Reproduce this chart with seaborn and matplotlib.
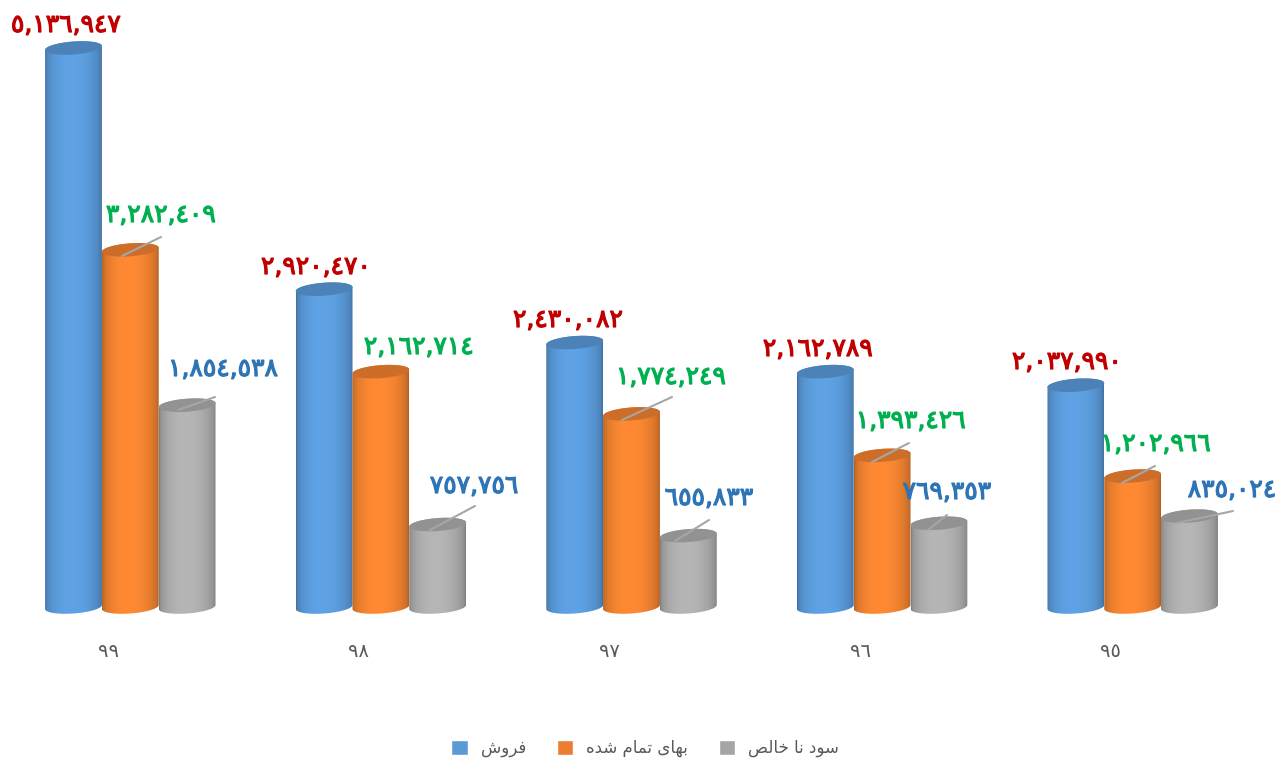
import numpy as np
import pandas as pd
import seaborn as sns
import matplotlib.pyplot as plt
import matplotlib.patheffects as pe
from matplotlib.colors import to_rgb
from matplotlib.path import Path
from matplotlib.patches import PathPatch
from matplotlib.transforms import ScaledTranslation

years = ['٩٩', '٩٨', '٩٧', '٩٦', '٩٥']
# presentation forms, because matplotlib does no arabic shaping or bidi
sales_name = '\uFED3\uFEAE\uFEED\uFEB5'[::-1]
cost_name = '\uFE91\uFEEC\uFE8E\uFBFC \uFE97\uFEE4\uFE8E\uFEE1 \uFEB7\uFEAA\uFEE9'[::-1]
profit_name = '\uFEB3\uFEEE\uFEA9 \uFEE7\uFE8E \uFEA7\uFE8E\uFEDF\uFEBA'[::-1]
series_names = [sales_name, cost_name, profit_name]

sales = [5136947, 2920470, 2430082, 2162789, 2037990]
cost = [3282409, 2162714, 1774249, 1393426, 1202966]
profit = [1854538, 757756, 655833, 769353, 835024]

legend_colors = ['#5B9BD5', '#ED7D31', '#A5A5A5']
light_colors = ['#5FA3E6', '#FF8A33', '#B6B6B6']
label_colors = ['#C00000', '#00B050', '#2E75B6']

# label centres in reference pixels, per series then per year
label_pos = [
    [(66, 25), (316, 267), (568, 320), (818, 349), (1067, 362)],
    [(161, 215), (419, 347), (671, 377), (911, 421), (1156, 444)],
    [(223, 369), (474, 486), (709, 498), (947, 492), (1232, 490)],
]
leaders = [
    ((161, 237), (122, 256)), ((672, 397), (622, 420)), ((909, 443), (872, 462)),
    ((1155, 466), (1122, 483)), ((215, 397), (178, 410)), ((475, 506), (430, 530)),
    ((709, 520), (675, 541)), ((947, 515), (928, 530)), ((1233, 511), (1177, 523)),
]

W, H = 1279, 761
base_px = 607
px_per_unit = 559 / max(sales)
cap_px = 6.5
tilt_px = 2

sns.set_theme(style='white')
plt.rcParams['font.family'] = ['DejaVu Sans']

df = pd.DataFrame({
    'year': years * 3,
    'series': np.repeat(series_names, len(years)),
    'value': sales + cost + profit,
})

fig = plt.figure(figsize=(W / 100, H / 100), dpi=100)
ax = fig.add_axes([5 / W, (H - 625) / H, 1253 / W, 625 / H])
sns.barplot(data=df, x='year', y='value', hue='series', hue_order=series_names,
            palette=legend_colors, width=0.68, gap=0, saturation=1, errorbar=None, ax=ax)

cap = cap_px / px_per_unit
tilt = tilt_px / px_per_unit
t = np.linspace(0, 2 * np.pi, 73)
profile = 0.68 + 0.32 * np.sin(np.pi * np.linspace(0, 1, 80) ** 0.9) ** 0.45

for s, container in enumerate(ax.containers):
    light = np.array(to_rgb(light_colors[s]))
    gradient = (profile[:, None] * light)[None, :, :]
    for bar in container:
        bar.set_visible(False)
        x0, w, h = bar.get_x(), bar.get_width(), bar.get_height()
        xc, a = x0 + w / 2, w / 2
        low = np.linspace(np.pi, 2 * np.pi, 37)
        up = np.linspace(0, np.pi, 37)
        xs = np.r_[xc + a * np.cos(low), xc + a * np.cos(up)]
        ys = np.r_[cap * np.sin(low) + tilt * np.cos(low), h + cap * np.sin(up) + tilt * np.cos(up)]
        body = Path(np.c_[xs, ys])
        im = ax.imshow(gradient, extent=(x0, x0 + w, -cap - tilt, h + cap + tilt),
                       aspect='auto', interpolation='bilinear', zorder=2 + s)
        im.set_clip_path(body, transform=ax.transData)
        top = Path(np.c_[xc + a * np.cos(t), h + cap * np.sin(t) + tilt * np.cos(t)])
        ax.add_patch(PathPatch(top, facecolor=light * 0.8, edgecolor='none', zorder=2.5 + s))

ax.set_xlim(-0.5, len(years) - 0.5)
ax.set_ylim(-(625 - base_px) / px_per_unit, base_px / px_per_unit)
ax.set_xlabel('')
ax.set_ylabel('')
ax.set_yticks([])
ax.tick_params(axis='x', length=0, pad=12, labelsize=14, labelcolor='#595959')
sns.despine(ax=ax, left=True, bottom=True)
shift = ScaledTranslation(-22 / 100, 0, fig.dpi_scale_trans)
for tick in ax.get_xticklabels():
    tick.set_transform(tick.get_transform() + shift)

digits = str.maketrans('0123456789', '٠١٢٣٤٥٦٧٨٩')
for s, values in enumerate([sales, cost, profit]):
    for i, v in enumerate(values):
        px, py = label_pos[s][i]
        txt = ax.annotate(f'{v:,}'.translate(digits), xy=(px, H - py), xycoords='figure pixels',
                          ha='center', va='center', fontsize=18, color=label_colors[s], zorder=10)
        txt.set_path_effects([pe.withStroke(linewidth=0.9, foreground=label_colors[s])])

for (x1, y1), (x2, y2) in leaders:
    ax.annotate('', xy=(x2, H - y2), xytext=(x1, H - y1), xycoords='figure pixels',
                textcoords='figure pixels', zorder=9,
                arrowprops=dict(arrowstyle='-', color='#A6A6A6', lw=1.5, shrinkA=0, shrinkB=0))

sns.move_legend(ax, 'center', bbox_to_anchor=(645 / W, (H - 748) / H),
                bbox_transform=fig.transFigure, ncol=3, frameon=False, title=None,
                fontsize=12, handlelength=1, handleheight=1, columnspacing=1.85, handletextpad=0.75)
for text in ax.get_legend().get_texts():
    text.set_color('#595959')

fig.savefig('out.png', dpi=100)
